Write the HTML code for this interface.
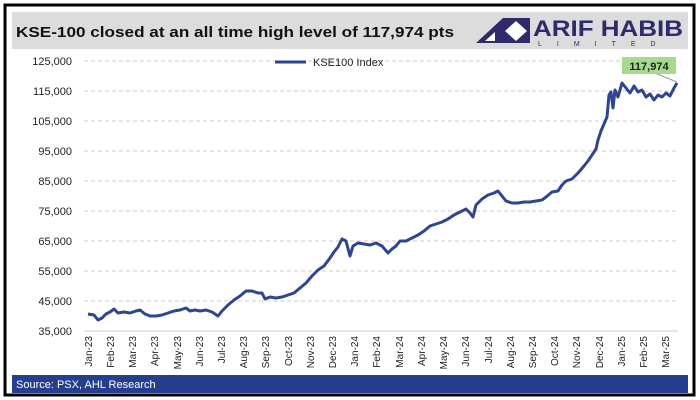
<!DOCTYPE html>
<html><head><style>
body{margin:0;background:#fff;}
svg{display:block;font-family:"Liberation Sans",Arial,sans-serif;}
</style></head><body>
<svg width="700" height="400" viewBox="0 0 700 400">
<rect x="0" y="0" width="700" height="400" fill="#fff"/>
<rect x="5" y="5" width="689" height="390" fill="#fff" stroke="#000" stroke-width="3"/>
<rect x="12" y="12" width="676" height="37" fill="#dcdcdc"/>
<text x="16" y="37" font-size="15" font-weight="bold" fill="#111" textLength="438" lengthAdjust="spacingAndGlyphs">KSE-100 closed at an all time high level of 117,974 pts</text>
<polygon points="476,43 503,18 503,43" fill="#2e2a6b"/>
<polygon points="503,18 530,18 530,43 503,43" fill="#2e2a6b"/>
<polygon points="505,31 516,21 527,31 516,41" fill="#fff"/>
<polygon points="485,41 495,32 495,41" fill="#fff"/>
<text x="533" y="36" font-size="22" font-weight="bold" fill="#2e2a6b" textLength="150" lengthAdjust="spacingAndGlyphs">ARIF HABIB</text>
<text x="538" y="46" font-size="7" fill="#2e2a6b" letter-spacing="15">LIMITED</text>
<g stroke="#ccc" stroke-dasharray="4,3" stroke-width="1">
<line x1="84" y1="61" x2="678" y2="61"/><line x1="84" y1="91" x2="678" y2="91"/>
<line x1="84" y1="121" x2="678" y2="121"/><line x1="84" y1="151" x2="678" y2="151"/>
<line x1="84" y1="181" x2="678" y2="181"/><line x1="84" y1="211" x2="678" y2="211"/>
<line x1="84" y1="241" x2="678" y2="241"/><line x1="84" y1="271" x2="678" y2="271"/>
<line x1="84" y1="301" x2="678" y2="301"/>
</g>
<line x1="84" y1="331" x2="678" y2="331" stroke="#ccc"/>
<g font-size="11" fill="#222" text-anchor="end">
<text x="72" y="65">125,000</text><text x="72" y="95">115,000</text><text x="72" y="125">105,000</text>
<text x="72" y="155">95,000</text><text x="72" y="185">85,000</text><text x="72" y="215">75,000</text>
<text x="72" y="245">65,000</text><text x="72" y="275">55,000</text><text x="72" y="305">45,000</text>
<text x="72" y="335">35,000</text>
</g>
<g font-size="10" fill="#222" text-anchor="end">
<text transform="translate(92,336) rotate(-90)">Jan-23</text>
<text transform="translate(114,336) rotate(-90)">Feb-23</text>
<text transform="translate(136,336) rotate(-90)">Mar-23</text>
<text transform="translate(158,336) rotate(-90)">Apr-23</text>
<text transform="translate(181,336) rotate(-90)">May-23</text>
<text transform="translate(203,336) rotate(-90)">Jun-23</text>
<text transform="translate(225,336) rotate(-90)">Jul-23</text>
<text transform="translate(247,336) rotate(-90)">Aug-23</text>
<text transform="translate(269,336) rotate(-90)">Sep-23</text>
<text transform="translate(292,336) rotate(-90)">Oct-23</text>
<text transform="translate(314,336) rotate(-90)">Nov-23</text>
<text transform="translate(336,336) rotate(-90)">Dec-23</text>
<text transform="translate(358,336) rotate(-90)">Jan-24</text>
<text transform="translate(380,336) rotate(-90)">Feb-24</text>
<text transform="translate(403,336) rotate(-90)">Mar-24</text>
<text transform="translate(425,336) rotate(-90)">Apr-24</text>
<text transform="translate(447,336) rotate(-90)">May-24</text>
<text transform="translate(469,336) rotate(-90)">Jun-24</text>
<text transform="translate(492,336) rotate(-90)">Jul-24</text>
<text transform="translate(514,336) rotate(-90)">Aug-24</text>
<text transform="translate(536,336) rotate(-90)">Sep-24</text>
<text transform="translate(558,336) rotate(-90)">Oct-24</text>
<text transform="translate(580,336) rotate(-90)">Nov-24</text>
<text transform="translate(603,336) rotate(-90)">Dec-24</text>
<text transform="translate(625,336) rotate(-90)">Jan-25</text>
<text transform="translate(647,336) rotate(-90)">Feb-25</text>
<text transform="translate(669,336) rotate(-90)">Mar-25</text>
</g>
<line x1="275" y1="62" x2="306" y2="62" stroke="#2e4590" stroke-width="3"/>
<text x="313" y="66" font-size="11" fill="#222">KSE100 Index</text>
<polyline fill="none" stroke="#2e4590" stroke-width="3" stroke-linejoin="round" points="
88,314 94,315 98,320 102,318 106,314 110,312 114,309 118,313 124,312 130,313 136,311 140,310 145,314 150,316 156,316 162,315 168,313 174,311 180,310 186,308 190,311 195,310 200,311 206,310 212,312 218,316 222,311 228,305 234,300 240,296 246,291 252,291 258,293 262,293 265,299 270,297 276,298 282,297 288,295 294,293 300,288 306,283 312,276 318,270 324,266 330,258 334,252 338,247 342,239 346,241 350,256 353,246 358,243 364,244 370,245 376,243 382,246 388,253 392,249 396,246 400,241 406,241 412,238 418,235 424,231 430,226 436,224 442,222 448,219 454,215 460,212 466,209 470,213 473,217 476,205 482,199 488,195 494,193 498,191 502,196 506,201 512,203 518,203 524,202 530,202 536,201 542,200 546,197 552,192 558,191 562,185 566,181 572,179 578,173 584,166 588,161 592,155 596,149 598,140 601,131 604,124 607,117 609,95 611,92 613,108 615,90 618,97 622,83 626,88 630,93 634,86 638,92 642,90 646,97 650,94 654,100 658,95 662,97 666,93 670,96 674,88 677,83"/>
<line x1="652" y1="72" x2="677" y2="82" stroke="#999" stroke-width="1"/>
<rect x="622" y="57" width="54" height="17" fill="#a7d98f"/>
<text x="649" y="70" font-size="11" font-weight="bold" fill="#222" text-anchor="middle">117,974</text>
<rect x="12" y="375" width="676" height="18" fill="#263e8e"/>
<text x="16" y="388" font-size="11" fill="#fff">Source: PSX, AHL Research</text>
</svg>
</body></html>
